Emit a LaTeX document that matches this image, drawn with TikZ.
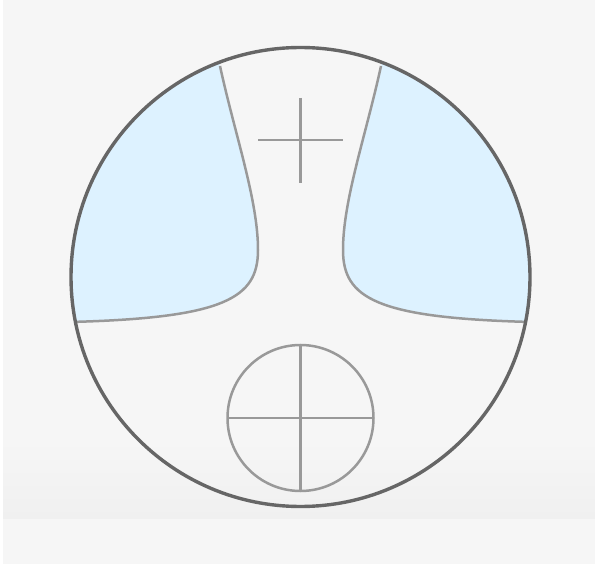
\documentclass[tikz,border=0pt]{standalone}
\usepackage{xcolor}
\usepackage{tikz}
\definecolor{bggray}{RGB}{246,246,246}
\definecolor{banddark}{RGB}{240,240,240}
\definecolor{rimgray}{RGB}{102,102,102}
\definecolor{lensgray}{RGB}{153,153,153}
\definecolor{fieldblue}{RGB}{221,242,255}

\begin{document}
\begin{tikzpicture}[x=1pt, y=-1pt,
    rim/.style={rimgray, line width=3.4pt},
    lens/.style={lensgray, line width=2.5pt},
    field/.style={fill=fieldblue}]
        % Background
        \fill[bggray] (0,0) rectangle (595,564);
        \fill[white] (0,0) rectangle (3,564);
        \shade[top color=bggray, bottom color=banddark] (3,440) rectangle (595,518);
        \useasboundingbox (0,0) rectangle (595,564);
        % Blue fields, clipped by the rim
        \begin{scope}
          \clip (300.5,277) circle (229.5);
          \fill[field] (214,30) -- (220,66) .. controls (235,135) and (258,200) .. (258,250)
                .. controls (258,298) and (225,318) .. (78,322) -- (60,322) -- (60,30) -- cycle;
          \fill[field] (387,30) -- (381,66) .. controls (366,135) and (343,200) .. (343,250)
                .. controls (343,298) and (376,318) .. (523,322) -- (541,322) -- (541,30) -- cycle;
          \draw[lens] (220,66) .. controls (235,135) and (258,200) .. (258,250)
                .. controls (258,298) and (225,318) .. (70,322);
          \draw[lens] (381,66) .. controls (366,135) and (343,200) .. (343,250)
                .. controls (343,298) and (376,318) .. (531,322);
        \end{scope}
        % Upper cross
        \draw[lens] (258,140) -- (343,140);
        \draw[lens] (300.5,98) -- (300.5,183);
        % Lower reticle
        \draw[lens] (300.5,418) circle (73);
        \draw[lens] (227.5,418) -- (373.5,418);
        \draw[lens] (300.5,345) -- (300.5,491);
        % Rim
        \draw[rim] (300.5,277) circle (229.5);
      \end{tikzpicture}
\end{document}
